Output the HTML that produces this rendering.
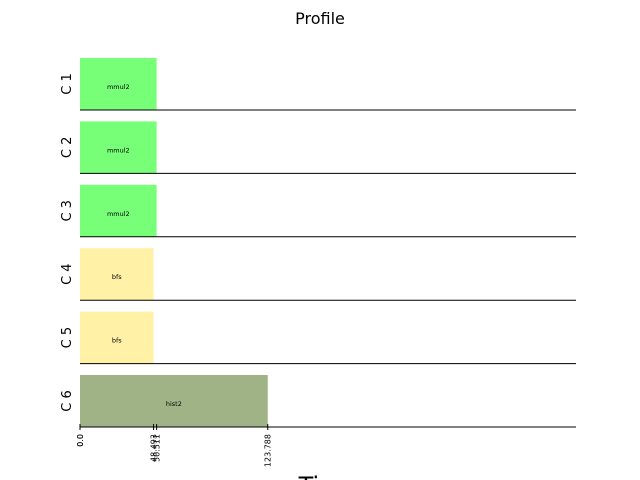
<!DOCTYPE html>
<html><head><meta charset="utf-8"><style>body{margin:0;background:#fff}svg{display:block;font-family:"DejaVu Sans","Liberation Sans",sans-serif}</style></head>
<body>
<svg id="chart" width="640" height="480" viewBox="0 0 640 480">
<text x="320" y="24" text-anchor="middle" font-size="16">Profile</text>
<text x="328" y="494" text-anchor="middle" font-size="24">Time</text>
<g id="rows"></g>
</svg>
<script>
const rowLabels = ["C 1","C 2","C 3","C 4","C 5","C 6"];
const taskNames = ["mmul2","mmul2","mmul2","bfs","bfs","hist2"];
const taskStarts = [0,0,0,0,0,0];
const taskEnds = [50.511,50.511,50.511,48.493,48.493,123.788];
const tickValues = [0,0,48.493,50.511,123.788];
const tickLabels = ["0.0","0.0","48.493","50.511","123.788"];
const colors = {mmul2:"#77ff77", bfs:"#fff2a6", hist2:"#a0b386"};
const ns="http://www.w3.org/2000/svg";
const x0=80,x1=576,xMax=327;
const xs=v=>x0+(v/xMax)*(x1-x0);
const g=document.getElementById('rows');
function mk(t,a){const e=document.createElementNS(ns,t);for(const k in a)e.setAttribute(k,a[k]);return e;}
rowLabels.forEach((lab,i)=>{
  const base=110+i*63.4, top=base-52;
  const r=mk('rect',{x:xs(taskStarts[i]),y:top,width:xs(taskEnds[i])-xs(taskStarts[i]),height:52,fill:colors[taskNames[i]]});
  
  
  g.appendChild(r);
  const t=mk('text',{x:(xs(taskStarts[i])+xs(taskEnds[i]))/2,y:top+31,'text-anchor':'middle','font-size':'6.5'});
  t.textContent=taskNames[i];
  
  
  g.appendChild(t);
  const l=mk('line',{x1:x0,x2:x1,y1:base,y2:base,stroke:'#000','stroke-width':1});
  
  
  g.appendChild(l);
  const yl=mk('text',{transform:`translate(71,${top+26}) rotate(-90)`,'text-anchor':'middle','font-size':'13'});
  yl.textContent=lab;
  
  
  g.appendChild(yl);
});
const axisY=110+5*63.4;
tickValues.forEach((v,i)=>{
  const x=xs(v);
  const tk=mk('line',{x1:x,x2:x,y1:axisY-3,y2:axisY+3,stroke:'#000','stroke-width':1});
  
  
  g.appendChild(tk);
  const tl=mk('text',{transform:`translate(${x+2.8},${axisY+7}) rotate(-90)`,'text-anchor':'end','font-size':'8'});
  tl.textContent=tickLabels[i];
  
  
  g.appendChild(tl);
});
</script>
</body></html>
